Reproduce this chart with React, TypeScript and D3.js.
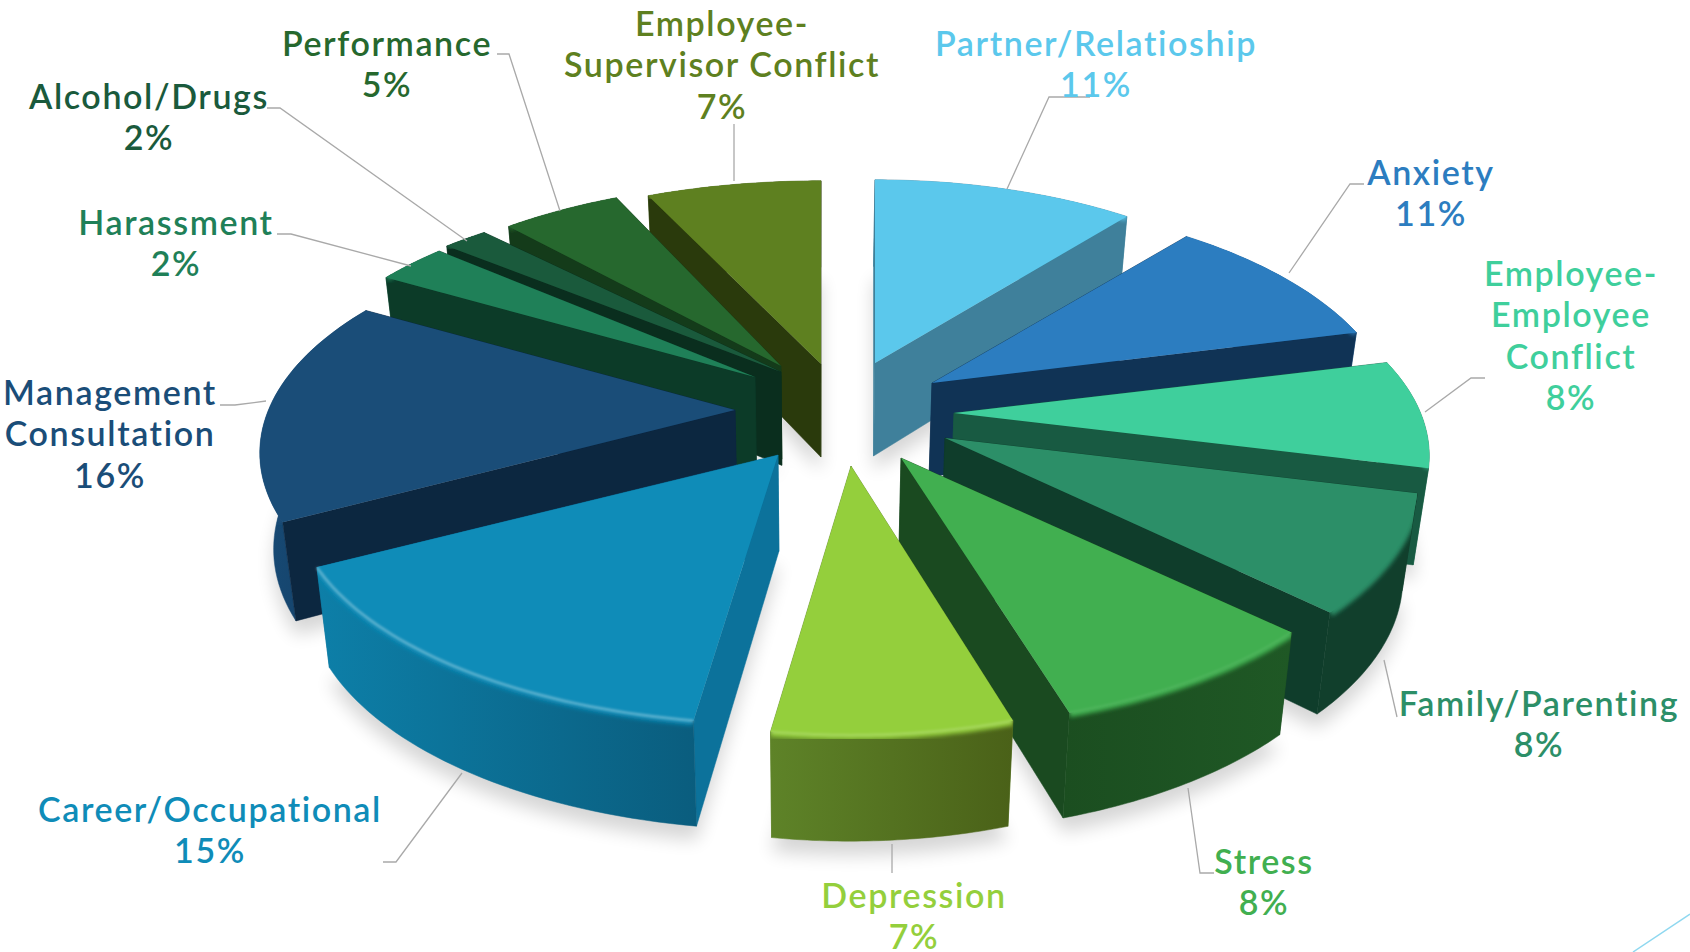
import React from "react";
import * as d3 from "d3";

const WIDTH = 1690, HEIGHT = 952;

// ---- data ----
const categories = ["Partner/Relatioship","Anxiety","Employee-Employee Conflict","Family/Parenting","Stress","Depression","Career/Occupational","Management Consultation","Harassment","Alcohol/Drugs","Performance","Employee-Supervisor Conflict"];
const percents = [11,11,8,8,8,7,15,16,2,2,5,7];
// slice shares as they look in the drawing (the 3D view distorts the labelled percents)
const shares = [11,10.11,7.78,8.33,8.06,7.03,14.92,16.11,2.92,1.75,5,7];
const labelLines = [["Partner/Relatioship"],["Anxiety"],["Employee-","Employee","Conflict"],["Family/Parenting"],["Stress"],["Depression"],["Career/Occupational"],["Management","Consultation"],["Harassment"],["Alcohol/Drugs"],["Performance"],["Employee-","Supervisor Conflict"]];
const topColors = ["#5BC8EC","#2C7DC0","#3FCF9C","#2C8F68","#41AF50","#94CF3C","#0F8CB8","#1A4D78","#1F8058","#1A5A3C","#26682E","#5E8020"];
const cutColors = ["#3F809B","#103355","#185A42","#0F3D2B","#1A4A20","#5E8328","#0C729B","#0C2740","#0C3B28","#0A2E1E","#143B1A","#2A3A0C"];
const wallLeft  = ["#3F809B","#1C5C92","#2C9A75","#113F2C","#1B4E20","#5E8328","#0D7FA8","#174A75","#15573C","#12402B","#1A4C22","#46601A"];
const wallRight = ["#3F809B","#1C5C92","#1E6B50","#113F2C","#1F5825","#4A6118","#0A5D7E","#133C60","#15573C","#12402B","#1A4C22","#46601A"];
const rimGlow = [0,0,0,0,0.06,0.14,0.3,0,0,0,0,0];

// ---- layout ----
const apexX = [875,932,954,945,901,851,778,735,755,781,781,821];
const apexY = [363,383,413,438,458,466,455,410,377,372,366,364];
const widen = [1,1.01,1.03,1.025,1.04,1,1.05,1.03,1.03,1.09,1,1.05];
const paintOrder = [11,10,9,8,0,1,2,3,4,7,6,5];
const labelCx = [1096,1431,1571,1539,1264,914,210,110,176,149,387,722];
const labelTop = [45,174,275,705,863,897,811,394,224,98,45,25];
const LINE = 41.4;
const leaders = [
  [[1090,97],[1049,97],[1007,189]],
  [[1364,184],[1350,184],[1289,273]],
  [[1485,378],[1471,378],[1425,412]],
  [[1397,717],[1384,660]],
  [[1214,873],[1200,873],[1188,788]],
  [[892,844],[892,873]],
  [[383,862],[396,862],[462,773]],
  [[220,405],[235,405],[266,401]],
  [[277,234],[291,234],[411,266]],
  [[267,108],[280,108],[467,241]],
  [[497,54],[509,54],[560,211]],
  [[734,124],[734,181]],
];
const R = 453, K = 218, P = 0.19, CX = 815;

const pieGen = d3.pie<number>().sort(null).startAngle(0).endAngle(2 * Math.PI);
const arcs = pieGen(shares);

type Pt = [number, number];
const top = (i: number, t: number): Pt => {
  const s = 1 + P * Math.cos(t);
  return [apexX[i] + (widen[i] * R * Math.sin(t)) / s, apexY[i] - (K * Math.cos(t)) / s];
};
const down = (p: Pt): Pt => [CX + (p[0] - CX) * 0.975, p[1] + 93 + 0.035 * (p[1] - 363)];
const line = d3.line<Pt>();
const outerPts = (i: number): Pt[] => {
  const a = arcs[i];
  return d3.range(0, 41).map((k) => top(i, a.startAngle + ((a.endAngle - a.startAngle) * k) / 40));
};

function Slice({ i }: { i: number }) {
  const arc = outerPts(i);
  const ap: Pt = [apexX[i], apexY[i]];
  const first = arc[0], last = arc[arc.length - 1];
  const wallOf = (pts: Pt[]) => line([...pts, ...pts.slice().reverse().map(down)])! + "Z";
  const walls = [
    { d: wallOf(arc), fill: `url(#wall${i})`, y: d3.mean(arc, (p) => p[1])! },
    { d: wallOf([ap, first]), fill: cutColors[i], y: (ap[1] + first[1]) / 2 },
    { d: wallOf([ap, last]), fill: cutColors[i], y: (ap[1] + last[1]) / 2 },
  ].sort((a, b) => a.y - b.y);
  return (
    <g>
      {walls.map((w, k) => (
        <path key={k} d={w.d} fill={w.fill} stroke={w.fill} strokeWidth={0.5} />
      ))}
      <path d={line(arc)!} fill="none" stroke={topColors[i]} strokeWidth={9} filter="url(#soft)" clipPath={`url(#silh${i})`} />
      <path d={line([ap, ...arc])! + "Z"} fill={topColors[i]} />
      <path d={line(arc)!} fill="none" stroke="#ffffff" strokeOpacity={rimGlow[i]} strokeWidth={3} filter="url(#soft1)" />
    </g>
  );
}

export default function App() {
  return (
    <svg width={WIDTH} height={HEIGHT} viewBox={`0 0 ${WIDTH} ${HEIGHT}`} style={{ position: "absolute", left: 0, top: 0, background: "#fff" }}>
      <defs>
        <filter id="soft" x="-20%" y="-20%" width="140%" height="140%"><feGaussianBlur stdDeviation={2} /></filter>
        <filter id="soft1" x="-20%" y="-20%" width="140%" height="140%"><feGaussianBlur stdDeviation={1} /></filter>
        <filter id="shadow" x="-20%" y="-20%" width="140%" height="140%"><feGaussianBlur stdDeviation={9} /></filter>
        {categories.map((_, i) => (
          <linearGradient key={i} id={`wall${i}`} x1="0" x2="1" y1="0" y2="0">
            <stop offset="0" stopColor={wallLeft[i]} />
            <stop offset="1" stopColor={wallRight[i]} />
          </linearGradient>
        ))}
        {categories.map((_, i) => {
          const arc = outerPts(i);
          return (
            <clipPath key={i} id={`silh${i}`}>
              <path d={line([...arc, ...arc.slice().reverse().map(down)])! + "Z"} />
              <path d={line([[apexX[i], apexY[i]], ...arc])! + "Z"} />
            </clipPath>
          );
        })}
      </defs>

      <g filter="url(#shadow)" opacity={0.16} transform="translate(0,14)">
        {categories.map((_, i) => (
          <path key={i} d={line([down([apexX[i], apexY[i]]), ...outerPts(i).map(down)])! + "Z"} fill="#000" />
        ))}
      </g>

      {paintOrder.map((i) => <Slice key={i} i={i} />)}

      {leaders.map((pts, i) => (
        <path key={i} d={line(pts as Pt[])!} fill="none" stroke="#A9A9A9" strokeWidth={1.3} />
      ))}

      {categories.map((c, i) => {
        const lines = [...labelLines[i], `${percents[i]}%`];
        return (
          <text key={c} textAnchor="middle" fill={topColors[i]} fontFamily="Lato, 'Open Sans', sans-serif" fontWeight={600} fontSize={34} letterSpacing={1.6}>
            {lines.map((l, k) => (
              <tspan key={k} x={labelCx[i]} y={labelTop[i] + 11 + k * LINE}>{l}</tspan>
            ))}
          </text>
        );
      })}

      <path d={line([[1633, 952], [1690, 914]])!} stroke="#8FD8F0" strokeWidth={1.5} fill="none" />
    </svg>
  );
}
